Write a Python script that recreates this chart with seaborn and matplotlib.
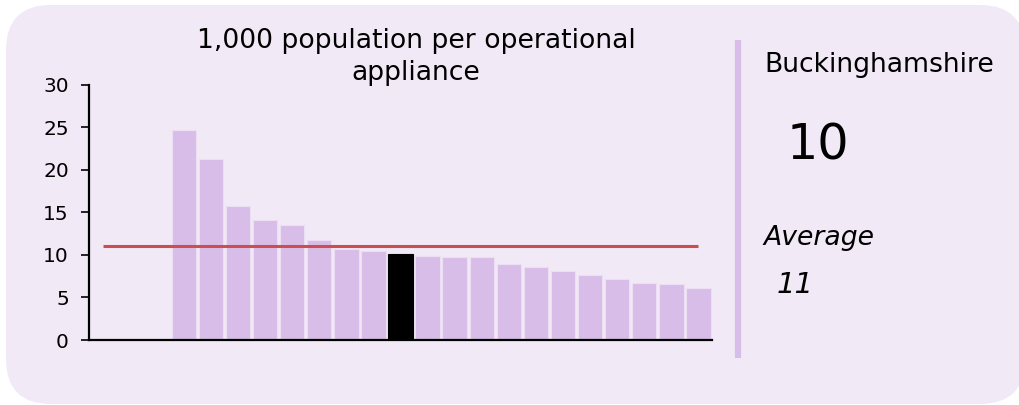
import numpy as np
import pandas as pd
import matplotlib
matplotlib.use("Agg")
import matplotlib.pyplot as plt
import seaborn as sns
from matplotlib.patches import FancyBboxPatch
from matplotlib.lines import Line2D

# ---- data ----
services = ["", " ", "  ",
            "FRS 1", "FRS 2", "FRS 3", "FRS 4", "FRS 5", "FRS 6", "FRS 7", "FRS 8",
            "Buckinghamshire",
            "FRS 10", "FRS 11", "FRS 12", "FRS 13", "FRS 14", "FRS 15", "FRS 16",
            "FRS 17", "FRS 18", "FRS 19", "FRS 20"]
values = [np.nan, np.nan, np.nan,
          24.7, 21.3, 15.7, 14.1, 13.5, 11.7, 10.7, 10.4,
          10.1,
          9.9, 9.8, 9.7, 8.9, 8.6, 8.1, 7.6, 7.2, 6.7, 6.6, 6.1]
highlight = "Buckinghamshire"
average = 11.1
title = "1,000 population per operational\nappliance"
yticks = [0, 5, 10, 15, 20, 25, 30]
highlight_value_label = "10"
average_label = "Average"
average_value_label = "11"

# ---- style ----
BG = "#f2e9f7"
BAR = "#d9bde9"
RED = "#c9504f"

sns.set_style("white")
plt.rcParams["font.family"] = ["DejaVu Sans"]

fig = plt.figure(figsize=(10.19, 4.05), dpi=100)
fig.patch.set_facecolor("white")

card = FancyBboxPatch((0.06, 0.01), 10.19, 3.99,
                      boxstyle="round,pad=0,rounding_size=0.45",
                      transform=fig.dpi_scale_trans, facecolor=BG,
                      edgecolor="none", zorder=-10)
fig.patches.append(card)

W, H = 1019, 405
ax = fig.add_axes([89 / W, (H - 340) / H, (712 - 89) / W, (340 - 84.7) / H])
ax.set_zorder(5)
ax.set_facecolor("none")
ax.patch.set_alpha(0)

df = pd.DataFrame({"service": services, "value": values})
palette = {s: ("black" if s == highlight else BAR) for s in services}
sns.barplot(data=df, x="service", y="value", hue="service", palette=palette,
            legend=False, width=0.9, ax=ax, edgecolor="#ecdff3", linewidth=0.8,
            saturation=1)
for p in ax.patches:
    if p.get_facecolor()[:3] == (0.0, 0.0, 0.0):
        p.set_edgecolor("black")

ax.hlines(average, 0, len(services) - 1, color=RED, linewidth=2.2, zorder=5)

ax.set_xlim(-0.5, len(services) - 0.5)
ax.set_ylim(0, 30)
ax.set_yticks(yticks)
ax.set_yticklabels([str(t) for t in yticks])
ax.set_xticks([])
ax.set_xlabel("")
ax.set_ylabel("")
for side in ["top", "right"]:
    ax.spines[side].set_visible(False)
for side in ["left", "bottom"]:
    ax.spines[side].set_visible(True)
    ax.spines[side].set_color("black")
    ax.spines[side].set_linewidth(1.6)
ax.tick_params(axis="y", left=True, length=6, width=1.2, pad=8.5,
               labelsize=14.5, colors="black")

def fy(ypix):
    return (H - ypix) / H

fig.text(416 / W, fy(57), title, ha="center", va="center", fontsize=19.2,
         color="black", linespacing=1.3)

fig.add_artist(Line2D([737.7 / W, 737.7 / W], [fy(40), fy(357.7)],
                      color=BAR, linewidth=4.5, solid_capstyle="butt"))

fig.text(764 / W, fy(65), highlight, ha="left", va="center", fontsize=19.2,
         color="black")
fig.text(787 / W, fy(146), highlight_value_label, ha="left", va="center",
         fontsize=35.5, color="black")
fig.text(763 / W, fy(238), average_label, ha="left", va="center", fontsize=19.2,
         style="italic", color="black")
fig.text(777 / W, fy(285), average_value_label, ha="left", va="center",
         fontsize=21, style="italic", color="black")

fig.savefig("out.png", dpi=100, facecolor=fig.get_facecolor())
